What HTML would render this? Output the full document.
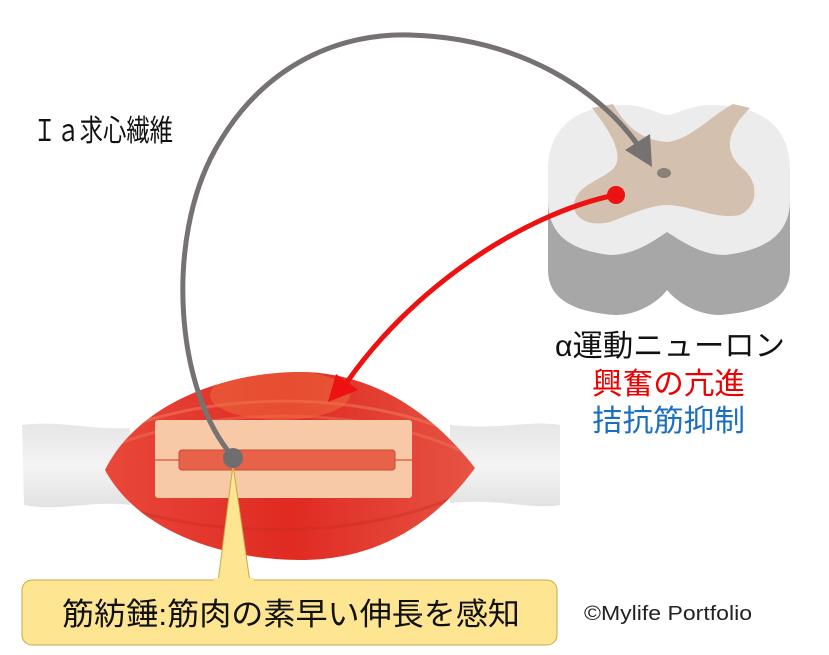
<!DOCTYPE html>
<html><head><meta charset="utf-8"><style>
html,body{margin:0;padding:0;background:#fff;}
svg{display:block;}
text{font-family:"Liberation Sans","Noto Sans CJK JP",sans-serif;}
</style></head><body>
<svg width="829" height="655" viewBox="0 0 829 655" xmlns="http://www.w3.org/2000/svg">
<defs>
<linearGradient id="mg" x1="0" y1="0" x2="1" y2="0">
<stop offset="0" stop-color="#e8483a"/><stop offset="0.5" stop-color="#e02a22"/><stop offset="1" stop-color="#e65444"/>
</linearGradient>
<linearGradient id="tg" x1="0" y1="0" x2="0" y2="1">
<stop offset="0" stop-color="#e6e6e6"/><stop offset="0.5" stop-color="#f4f4f4"/><stop offset="1" stop-color="#e2e2e2"/>
</linearGradient>
<clipPath id="mc"><path d="M105 470 C140 400 230 372 300 372 C370 372 430 410 475 468 C430 530 370 560 300 560 C230 560 140 535 105 470 Z"/></clipPath>
</defs>
<path d="M22 425 C60 420 90 430 130 428 L130 505 C90 500 60 512 24 505 Z" fill="url(#tg)"/>
<path d="M450 425 C500 430 530 420 560 425 L560 505 C530 510 500 498 450 503 Z" fill="url(#tg)"/>
<path d="M105 470 C140 400 230 372 300 372 C370 372 430 410 475 468 C430 530 370 560 300 560 C230 560 140 535 105 470 Z" fill="url(#mg)"/>
<g clip-path="url(#mc)" fill="none" stroke-width="3">
<path d="M120 430 C220 390 370 390 470 440" stroke="#f08060" opacity="0.5"/>
<path d="M115 445 C220 405 370 405 470 455" stroke="#f08060" opacity="0.4"/>
<path d="M115 505 C220 540 370 540 470 490" stroke="#c82a22" opacity="0.4"/>
<ellipse cx="280" cy="395" rx="70" ry="25" fill="#ee7040" stroke="none" opacity="0.5"/>
</g>
<rect x="155" y="420" width="257" height="78" rx="3" fill="#f7c9a6"/>
<line x1="155" y1="460" x2="412" y2="460" stroke="#e8624a" stroke-width="1.5"/>
<rect x="179" y="450" width="216" height="20" rx="3" fill="#e8624a" stroke="#c84a34" stroke-width="1"/>
<path d="M218 582 L233 465 L250 582 Z" fill="#fde592" stroke="#c9a848" stroke-width="1"/>
<rect x="22" y="580" width="535" height="65" rx="10" fill="#fde592" stroke="#c9a848" stroke-width="1"/>
<rect x="214" y="578" width="40" height="6" fill="#fde592"/>
<text x="62" y="625" font-size="31" fill="#111" textLength="458" lengthAdjust="spacingAndGlyphs">筋紡錘:筋肉の素早い伸長を感知</text>
<path d="M548 180 L548 270 C548 300 575 312 615 315 C640 315 660 300 667 290 C675 300 695 315 720 315 C760 312 790 300 790 270 L790 180 Z" fill="#a7a7a7"/>
<path d="M548 170 C548 125 580 105 625 105 C645 105 660 115 667 115 C675 115 690 105 710 105 C760 105 790 125 790 170 L790 200 C790 235 765 250 725 255 C700 255 680 240 667 232 C655 240 635 255 610 255 C570 250 548 235 548 200 Z" fill="#ececec"/>
<path d="M592 108 L613 104 C625 125 640 140 667 142 C690 140 712 115 733 104 L750 108 C728 130 722 150 742 168 C758 180 760 205 740 215 C715 220 690 205 667 205 C650 205 630 215 610 222 C585 228 570 215 575 200 C580 185 600 180 612 170 C628 155 605 125 592 108 Z" fill="#d4c0ae"/>
<ellipse cx="664" cy="173" rx="7" ry="5" fill="#8a8078"/>
<path d="M615 195 C520 215 410 290 345 385" stroke="#ee1111" stroke-width="5" fill="none"/>
<polygon points="328,402 336,374 358,390" fill="#ee1111"/>
<circle cx="616" cy="195" r="9" fill="#ee1111"/>
<path d="M233 457 C175 390 165 240 215 150 C265 60 345 33 410 35 C520 38 600 90 640 148" stroke="#767272" stroke-width="5" fill="none"/>
<polygon points="652,167 625,150 650,134" fill="#767272"/>
<circle cx="233" cy="458" r="10" fill="#6e6e6e"/>
<text x="33" y="141" font-size="30" fill="#111" textLength="140" lengthAdjust="spacingAndGlyphs">Ｉａ求心繊維</text>
<text x="555" y="356" font-size="30" fill="#111" textLength="230" lengthAdjust="spacingAndGlyphs">α運動ニューロン</text>
<text x="592" y="394" font-size="30" fill="#ee0000" textLength="153" lengthAdjust="spacingAndGlyphs">興奮の亢進</text>
<text x="592" y="431" font-size="30" fill="#1a6fc0" textLength="153" lengthAdjust="spacingAndGlyphs">拮抗筋抑制</text>
<text x="584" y="620" font-size="20" fill="#222" textLength="168" lengthAdjust="spacingAndGlyphs">©Mylife Portfolio</text>
</svg>
</body></html>
